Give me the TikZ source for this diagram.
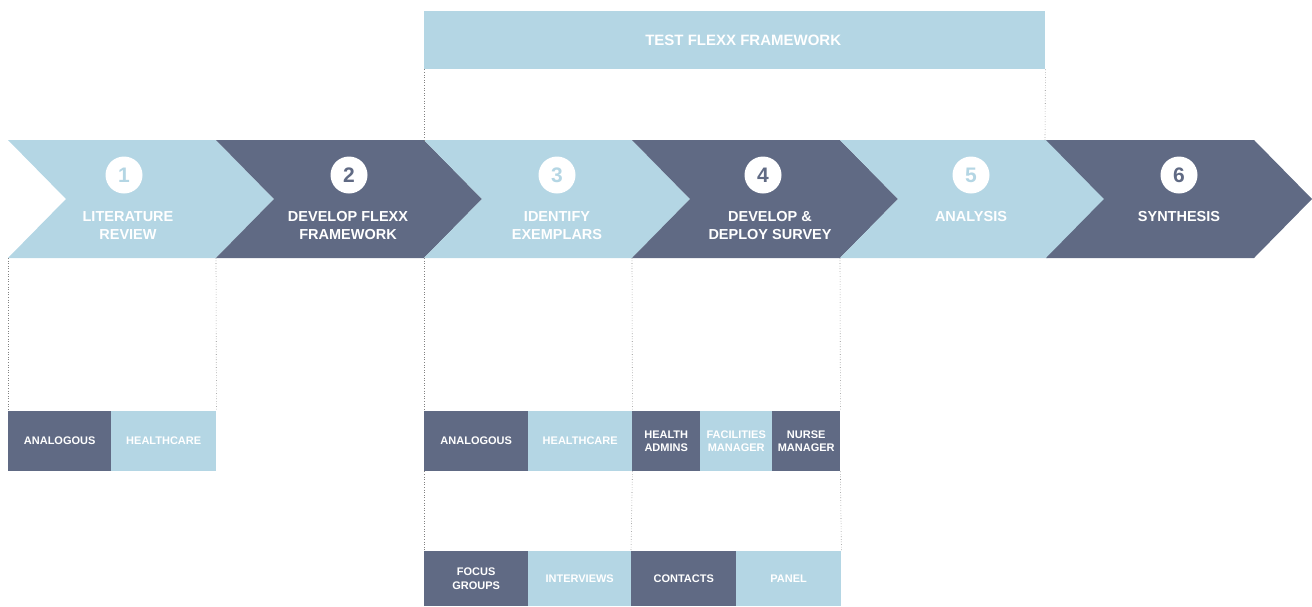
\documentclass[tikz,border=0pt]{standalone}
\usepackage{fontspec}
\setmainfont{Liberation Sans}
\definecolor{lb}{RGB}{180,214,228}
\definecolor{db}{RGB}{96,106,132}
\definecolor{dotc}{RGB}{130,130,130}
\begin{document}
\begin{tikzpicture}[x=1pt,y=-1pt,
  lightfill/.style={fill=lb},
  darkfill/.style={fill=db},
  num/.style={circle, fill=white, minimum size=37pt, inner sep=0pt, font=\fontsize{21}{21}\selectfont\bfseries},
  lbl/.style={text=white, align=center, inner sep=0pt, font=\fontsize{14.5}{18}\selectfont\bfseries},
  box/.style={anchor=north west, inner sep=0pt, text=white, align=center, font=\fontsize{11}{13.5}\selectfont\bfseries},
  guide/.style={draw=dotc, dotted, line width=0.6pt}]
\useasboundingbox (0,0) rectangle (1312,606);
% chevrons
\foreach \L/\s [count=\i] in {8/lightfill,216/darkfill,424/lightfill,632/darkfill,840/lightfill,1046/darkfill}{
  \path[\s] (\L,140) -- (\L+208,140) -- (\L+266,199) -- (\L+208,258) -- (\L,258) -- (\L+58,199) -- cycle;
  \coordinate (c\i tl) at (\L,140);
  \coordinate (c\i bl) at (\L,258);
}
\coordinate (c6tr) at (1045,140);
% numbers
\node[num, text=lb] (n1) at (124,175) {1};
\node[num, text=db] (n2) at (349,175) {2};
\node[num, text=lb] (n3) at (557,175) {3};
\node[num, text=db] (n4) at (763,175) {4};
\node[num, text=lb] (n5) at (971,175) {5};
\node[num, text=db] (n6) at (1179,175) {6};
% labels
\node[lbl] (l1) at (128,226) {LITERATURE\\REVIEW};
\node[lbl] (l2) at (348,226) {DEVELOP FLEXX\\FRAMEWORK};
\node[lbl] (l3) at (557,226) {IDENTIFY\\EXEMPLARS};
\node[lbl] (l4) at (770,226) {DEVELOP \&\\DEPLOY SURVEY};
\node[lbl] (l5) at (971,217) {ANALYSIS};
\node[lbl] (l6) at (1179,217) {SYNTHESIS};
% top bar
\node[box, lightfill, minimum width=621pt, minimum height=58pt, font=\fontsize{15}{15}\selectfont\bfseries] (bar) at (424,11)
  {\hspace*{17pt}TEST FLEXX FRAMEWORK};
% boxes row 1
\node[box, darkfill, minimum width=103pt, minimum height=60pt] (a1) at (8,411) {ANALOGOUS};
\node[box, lightfill, minimum width=105pt, minimum height=60pt] (h1) at (111,411) {HEALTHCARE};
\node[box, darkfill, minimum width=104pt, minimum height=60pt] (a3) at (424,411) {ANALOGOUS};
\node[box, lightfill, minimum width=104pt, minimum height=60pt] (h3) at (528,411) {HEALTHCARE};
\node[box, darkfill, minimum width=68pt, minimum height=60pt] (ha) at (632,411) {HEALTH\\ADMINS};
\node[box, lightfill, minimum width=72pt, minimum height=60pt] (fm) at (700,411) {FACILITIES\\MANAGER};
\node[box, darkfill, minimum width=68pt, minimum height=60pt] (nm) at (772,411) {NURSE\\MANAGER};
% boxes row 2
\node[box, darkfill, minimum width=104pt, minimum height=55pt] (fg) at (424,551) {FOCUS\\GROUPS};
\node[box, lightfill, minimum width=103pt, minimum height=55pt] (iv) at (528,551) {INTERVIEWS};
\node[box, darkfill, minimum width=105pt, minimum height=55pt] (ct) at (631,551) {CONTACTS};
\node[box, lightfill, minimum width=105pt, minimum height=55pt] (pn) at (736,551) {PANEL};
% dotted guides
\draw[guide] (bar.south west) -- (c3tl);
\draw[guide] (bar.south east) -- (c6tr);
\draw[guide] (c1bl) -- (a1.north west);
\draw[guide] (c2bl) -- (h1.north east);
\draw[guide] (c3bl) -- (a3.north west);
\draw[guide] (c4bl) -- (h3.north east);
\draw[guide] (c5bl) -- (nm.north east);
\draw[guide] (a3.south west) -- (fg.north west);
\draw[guide] (h3.south east) -- (ct.north west);
\draw[guide] (nm.south east) -- (pn.north east);
\end{tikzpicture}
\end{document}
